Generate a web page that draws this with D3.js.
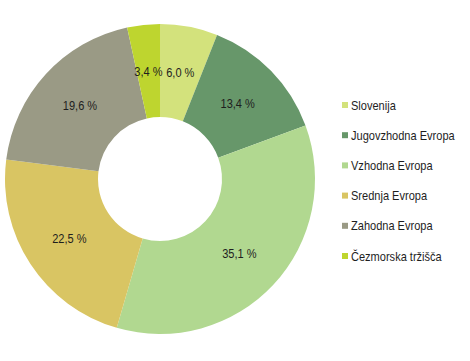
<!DOCTYPE html>
<html><head><meta charset="utf-8">
<script src="https://cdn.jsdelivr.net/npm/d3@7"></script>
<style>
body{margin:0;background:#fff;}
text{font-family:"Liberation Sans",Arial,sans-serif;}
</style></head>
<body>
<svg id="c" width="470" height="361"></svg>
<script>
const categories = ["Slovenija","Jugovzhodna Evropa","Vzhodna Evropa","Srednja Evropa","Zahodna Evropa","Čezmorska tržišča"];
const values = [6.0, 13.4, 35.1, 22.5, 19.6, 3.4];
const labels = ["6,0 %","13,4 %","35,1 %","22,5 %","19,6 %","3,4 %"];
const colors = ["#d3e27c","#67976a","#b1d890","#d9c563","#9a9a85","#bed52f"];

const svg = d3.select("#c");
const cx = 160, cy = 179, rOuter = 155, rInner = 62;
const sx = 0.85;
const pie = d3.pie().sort(null).value(d => d.v);
const data = categories.map((c,i)=>({c, v: values[i], l: labels[i], col: colors[i]}));
const arcs = pie(data);
const arc = d3.arc().innerRadius(rInner).outerRadius(rOuter);
const g = svg.append("g").attr("transform",`translate(${cx},${cy})`);
g.selectAll("path").data(arcs).join("path")
  .attr("d", arc).attr("fill", d => d.data.col);
g.selectAll("text").data(arcs).join("text")
  .attr("transform", d => `translate(${arc.centroid(d)}) scale(${sx},1)`)
  .attr("text-anchor","middle").attr("dy","0.36em")
  .attr("font-size", 13).attr("fill","#1e1e1e")
  .text(d => d.data.l);

const leg = svg.append("g").attr("transform","translate(342,105)");
const y = d3.scalePoint().domain(categories).range([0, 151]);
const item = leg.selectAll("g").data(data).join("g")
  .attr("transform", d => `translate(0,${y(d.c)})`);
item.append("rect").attr("x",0).attr("y",-3).attr("width",6).attr("height",6).attr("fill", d => d.col);
item.append("text").attr("transform",`translate(9,0) scale(${sx},1)`).attr("dy","0.36em").attr("font-size",13).attr("fill","#1e1e1e").text(d => d.c);
</script>
</body></html>
